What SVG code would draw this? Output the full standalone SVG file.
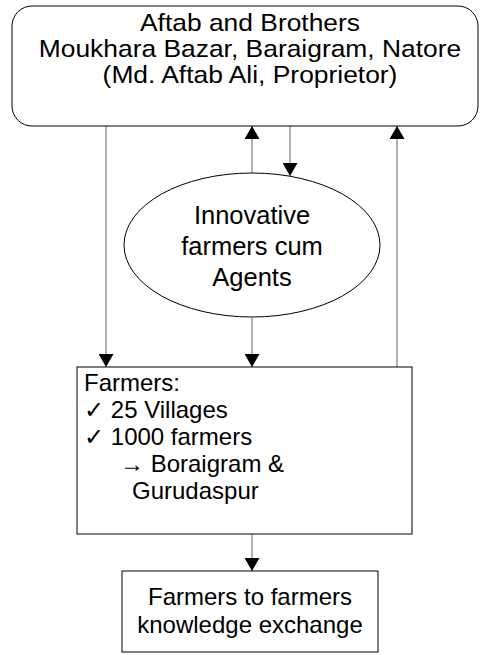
<svg xmlns="http://www.w3.org/2000/svg" width="481" height="655" viewBox="0 0 481 655">
<style>
.box{fill:#fff;stroke:#000;stroke-width:1}
.t{font-family:"Liberation Sans","DejaVu Sans",Arial,sans-serif;font-size:24px;fill:#000}
.c{text-anchor:middle}
.ln{stroke:#999;stroke-width:1.5;fill:none}
</style>
<defs>
<marker id="ah" viewBox="0 0 13 15" refX="13" refY="7.5" markerWidth="13" markerHeight="15" markerUnits="userSpaceOnUse" orient="auto">
<path d="M0,0 L13,7.5 L0,15 Z" fill="#000"/>
</marker>
</defs>
<rect width="481" height="655" fill="#fff"/>
<g id="connectors">
<line class="ln" x1="106" y1="126" x2="106" y2="367" marker-end="url(#ah)"/>
<line class="ln" x1="252" y1="173" x2="252" y2="126" marker-end="url(#ah)"/>
<line class="ln" x1="290" y1="126" x2="290" y2="176" marker-end="url(#ah)"/>
<line class="ln" x1="397" y1="367" x2="397" y2="126" marker-end="url(#ah)"/>
<line class="ln" x1="252" y1="318" x2="252" y2="367" marker-end="url(#ah)"/>
<line class="ln" x1="252" y1="534" x2="252" y2="571" marker-end="url(#ah)"/>
</g>
<g id="aftab">
<rect class="box" x="12" y="6" width="466" height="120" rx="20"/>
<g transform="translate(250 0) scale(1.1 1)">
<text class="t c" x="0" y="31">Aftab and Brothers</text>
<text class="t c" x="0" y="57">Moukhara Bazar, Baraigram, Natore</text>
<text class="t c" x="0" y="83">(Md. Aftab Ali, Proprietor)</text>
</g>
</g>
<g id="agents">
<ellipse class="box" cx="252" cy="245" rx="128" ry="72"/>
<text class="t c" x="252" y="224" style="font-size:25.5px">Innovative</text>
<text class="t c" x="252" y="255" style="font-size:25.5px">farmers cum</text>
<text class="t c" x="252" y="286" style="font-size:25.5px">Agents</text>
</g>
<g id="farmers">
<rect class="box" x="77" y="367" width="335" height="167"/>
<text class="t" x="84" y="391">Farmers:</text>
<text class="t" x="84" y="418">✓ 25 Villages</text>
<text class="t" x="84" y="445">✓ 1000 farmers</text>
<text class="t" x="120" y="472">→ Boraigram &amp;</text>
<text class="t" x="132" y="499">Gurudaspur</text>
</g>
<g id="exchange">
<rect class="box" x="122" y="571" width="256" height="81"/>
<text class="t c" x="250" y="605">Farmers to farmers</text>
<text class="t c" x="250" y="633">knowledge exchange</text>
</g>
</svg>
